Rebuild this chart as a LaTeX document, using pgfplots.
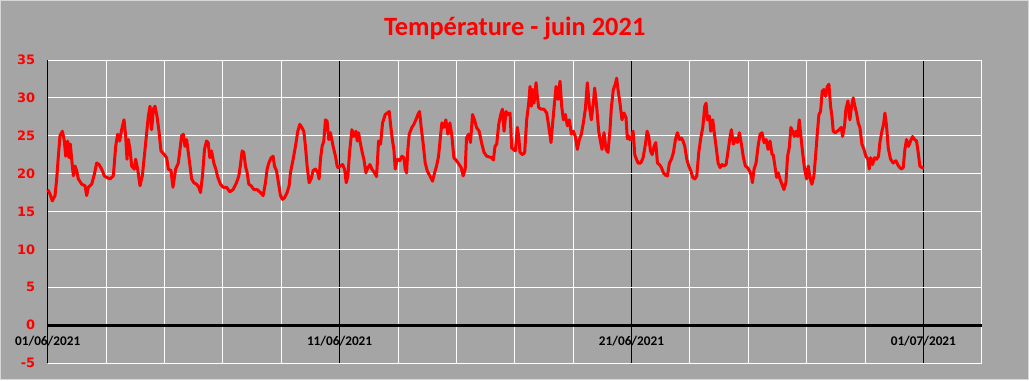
\documentclass[border=0pt]{standalone}
\usepackage{pgfplots}
\pgfplotsset{compat=1.18}
\usepackage{fontspec}
\setmainfont{Carlito}
\newfontfamily\dejavu{DejaVu Sans}
\definecolor{bg}{RGB}{165,165,165}
\definecolor{frame}{RGB}{215,215,215}
\pgfplotstableread{
x y
0.000 17.9
0.080 17.3
0.160 16.4
0.251 17.1
0.308 19.3
0.365 22.3
0.422 25.0
0.502 25.6
0.571 24.3
0.616 22.3
0.685 24.3
0.731 22.1
0.776 23.9
0.822 21.9
0.879 19.7
0.936 21.0
0.993 20.4
1.050 19.3
1.164 18.6
1.279 18.4
1.336 17.1
1.393 18.2
1.507 18.6
1.598 19.9
1.678 21.4
1.758 21.2
1.849 20.6
1.941 19.7
2.021 19.5
2.135 19.3
2.249 19.7
2.329 23.6
2.397 25.2
2.466 24.3
2.534 25.8
2.614 27.1
2.671 25.0
2.717 21.9
2.763 24.5
2.820 23.2
2.877 21.0
2.968 20.6
3.014 21.9
3.082 20.6
3.162 18.4
3.242 19.7
3.311 22.3
3.391 25.4
3.448 27.6
3.505 28.9
3.562 25.8
3.619 28.5
3.676 28.9
3.744 27.6
3.813 25.6
3.881 23.0
3.996 22.5
4.075 22.1
4.133 20.6
4.224 20.4
4.292 18.2
4.384 20.6
4.475 21.4
4.589 25.0
4.646 25.2
4.703 23.6
4.760 24.5
4.840 22.1
4.932 19.3
5.007 18.8
5.098 18.6
5.178 18.2
5.235 17.5
5.304 19.7
5.372 23.2
5.441 24.3
5.498 24.1
5.555 22.1
5.612 23.0
5.692 21.4
5.760 20.6
5.829 19.5
5.920 18.6
6.011 18.2
6.126 18.2
6.240 17.6
6.354 17.9
6.468 18.8
6.548 19.7
6.605 21.2
6.662 23.0
6.719 22.8
6.776 21.0
6.834 20.1
6.890 18.6
6.970 18.4
7.062 17.9
7.176 17.9
7.290 17.5
7.381 17.1
7.461 18.8
7.518 20.6
7.575 21.4
7.655 22.1
7.724 22.3
7.769 21.0
7.838 20.4
7.906 18.8
7.975 17.1
8.043 16.6
8.112 16.8
8.203 17.5
8.272 18.4
8.317 20.1
8.409 21.9
8.489 23.6
8.569 25.6
8.637 26.5
8.706 26.1
8.774 25.6
8.831 23.6
8.888 21.0
8.957 18.8
9.025 19.3
9.094 20.4
9.174 20.6
9.254 20.1
9.299 19.3
9.345 21.9
9.402 23.6
9.459 24.3
9.516 27.1
9.573 26.9
9.630 24.5
9.687 25.4
9.779 23.6
9.859 22.3
9.916 21.0
9.943 20.8
10.023 21.0
10.103 21.2
10.171 20.6
10.228 18.8
10.285 19.7
10.342 22.8
10.422 25.8
10.491 24.9
10.559 25.6
10.605 24.3
10.651 25.4
10.708 24.1
10.765 23.0
10.833 21.9
10.902 20.1
10.970 20.8
11.039 21.2
11.107 20.6
11.199 20.1
11.267 19.6
11.336 24.3
11.404 23.9
11.473 26.7
11.564 27.8
11.632 28.0
11.701 28.2
11.758 26.1
11.815 24.3
11.861 23.2
11.906 20.6
11.975 21.9
12.066 21.7
12.135 22.3
12.203 22.1
12.249 20.6
12.295 20.1
12.340 23.2
12.386 25.2
12.477 26.1
12.546 26.5
12.614 27.1
12.683 27.8
12.740 28.2
12.797 26.1
12.865 23.9
12.934 21.4
13.002 20.4
13.094 19.7
13.185 19.0
13.254 20.1
13.322 21.0
13.391 22.3
13.459 25.0
13.505 26.7
13.573 26.1
13.642 27.1
13.710 25.2
13.779 26.7
13.847 25.0
13.916 22.1
14.007 21.7
14.098 21.2
14.167 20.8
14.235 19.7
14.304 20.6
14.349 24.7
14.418 25.2
14.486 24.1
14.555 27.8
14.623 27.1
14.692 26.1
14.783 25.6
14.875 23.9
14.950 22.8
15.041 22.3
15.132 22.2
15.212 22.1
15.269 21.8
15.326 23.6
15.384 23.9
15.452 26.5
15.521 27.8
15.578 28.5
15.635 25.6
15.703 28.2
15.772 27.8
15.840 28.0
15.897 23.4
15.954 23.2
16.023 23.0
16.091 26.1
16.137 24.9
16.183 22.8
16.274 22.5
16.342 22.8
16.411 27.1
16.479 29.3
16.525 31.5
16.571 28.9
16.616 31.1
16.662 29.3
16.731 32.0
16.776 30.2
16.822 28.7
16.913 28.5
17.005 28.5
17.096 28.0
17.164 26.3
17.244 24.1
17.301 26.7
17.370 29.6
17.416 31.5
17.484 29.8
17.553 32.2
17.610 28.9
17.667 27.1
17.735 27.8
17.804 26.3
17.872 27.1
17.941 25.2
18.009 25.6
18.078 24.9
18.146 23.2
18.215 24.5
18.283 25.2
18.352 26.7
18.420 28.5
18.489 32.0
18.557 28.9
18.626 27.1
18.694 29.3
18.740 31.3
18.808 28.9
18.877 25.6
18.945 24.1
18.991 23.2
19.059 25.4
19.128 23.2
19.196 22.8
19.265 25.8
19.311 28.7
19.379 31.1
19.448 31.8
19.493 32.6
19.539 31.1
19.607 29.3
19.676 27.1
19.744 28.0
19.813 27.4
19.859 24.6
19.886 25.0
19.943 24.5
20.000 24.7
20.057 25.6
20.114 22.5
20.171 21.9
20.228 21.4
20.320 21.4
20.400 22.1
20.479 23.9
20.537 25.6
20.594 24.9
20.651 23.0
20.708 22.5
20.776 23.6
20.833 24.1
20.890 21.4
20.959 21.2
21.027 20.8
21.096 20.1
21.164 19.8
21.233 19.7
21.301 21.4
21.370 21.9
21.438 22.8
21.507 24.5
21.575 25.4
21.644 24.5
21.712 24.7
21.769 24.3
21.827 23.6
21.895 21.9
21.964 21.0
22.032 20.4
22.101 19.5
22.169 19.3
22.238 19.7
22.306 22.8
22.375 24.7
22.443 26.1
22.512 28.9
22.557 29.3
22.603 27.1
22.671 27.6
22.717 25.6
22.785 27.1
22.854 24.9
22.911 23.2
22.968 21.4
23.037 20.8
23.105 21.2
23.174 21.0
23.242 21.2
23.311 23.0
23.379 24.9
23.425 25.8
23.493 23.9
23.562 24.7
23.630 24.1
23.699 25.4
23.767 23.9
23.836 22.1
23.904 21.0
23.973 20.8
24.041 20.4
24.110 19.7
24.144 18.8
24.201 20.6
24.269 21.4
24.338 23.6
24.406 25.2
24.475 25.4
24.543 24.1
24.612 24.5
24.680 23.2
24.749 24.3
24.817 22.5
24.858 22.5
24.915 21.0
24.973 19.5
25.030 20.1
25.087 19.3
25.155 18.6
25.224 17.9
25.292 18.8
25.349 22.3
25.406 23.4
25.463 26.1
25.521 25.6
25.578 24.9
25.635 25.6
25.692 24.9
25.749 27.1
25.806 24.9
25.863 22.8
25.932 20.6
26.000 19.3
26.057 21.0
26.114 19.5
26.183 18.6
26.251 19.7
26.308 22.3
26.365 25.2
26.422 27.8
26.479 28.2
26.537 30.9
26.594 31.1
26.651 30.2
26.708 31.5
26.765 31.8
26.822 28.9
26.868 27.6
26.913 25.6
26.982 25.4
27.050 25.6
27.119 25.8
27.187 26.1
27.233 24.9
27.301 26.3
27.347 28.5
27.416 29.6
27.484 27.1
27.541 28.9
27.598 30.0
27.655 28.9
27.712 28.0
27.769 26.7
27.827 26.1
27.895 23.9
27.964 23.2
28.032 22.3
28.101 21.9
28.146 20.6
28.192 22.1
28.260 21.2
28.329 22.1
28.397 21.9
28.466 22.3
28.511 24.1
28.580 25.6
28.637 26.5
28.683 28.0
28.740 26.3
28.797 23.4
28.877 21.9
28.968 21.4
29.059 21.7
29.151 21.0
29.242 20.6
29.311 20.8
29.368 23.2
29.425 24.5
29.493 23.6
29.562 24.3
29.630 24.9
29.699 24.5
29.767 24.3
29.824 22.8
29.881 21.0
29.950 20.8
30.018 20.7
}\temps
\begin{document}
\begin{tikzpicture}[x=1bp,y=1bp]
\fill[bg] (0,0) rectangle (1029,380);
\draw[frame, line width=1.5bp] (0.75,0.75) rectangle (1028.25,379.25);
\begin{axis}[
  at={(47.7bp,17bp)}, anchor=south west,
  scale only axis, width=934bp, height=303bp,
  xmin=0, xmax=32, ymin=-5, ymax=35,
  axis line style={draw=none},
  tick style={draw=none},
  xtick={0,10,20,30},
  xticklabels={01/06/2021,11/06/2021,21/06/2021,01/07/2021},
  minor xtick={2,4,6,8,12,14,16,18,22,24,26,28,32},
  xmajorgrids, xminorgrids, ymajorgrids,
  major x grid style={black, line width=0.9bp},
  minor x grid style={white, line width=0.9bp},
  major y grid style={white, line width=0.9bp},
  ytick={-5,0,5,10,15,20,25,30,35},
  yticklabels={-5,0,5,10,15,20,25,30,35},
  xticklabel style={font=\fontsize{13.3}{15}\selectfont\bfseries, text=black, anchor=center, yshift=22bp},
  yticklabel style={font=\dejavu\fontsize{13}{15}\selectfont\bfseries, text=red, xshift=-9bp},
  title={Température - juin 2021},
  title style={font=\fontsize{26.5}{30}\selectfont\bfseries, text=red, at={(0.5,1)}, anchor=center, yshift=26bp},
  clip=false,
]
\draw[black, line width=3bp] (axis cs:0,0) -- (axis cs:32,0);
\addplot[red, line width=3bp, line join=round, no markers] table[x=x, y=y] {\temps};
\end{axis}
\end{tikzpicture}
\end{document}
